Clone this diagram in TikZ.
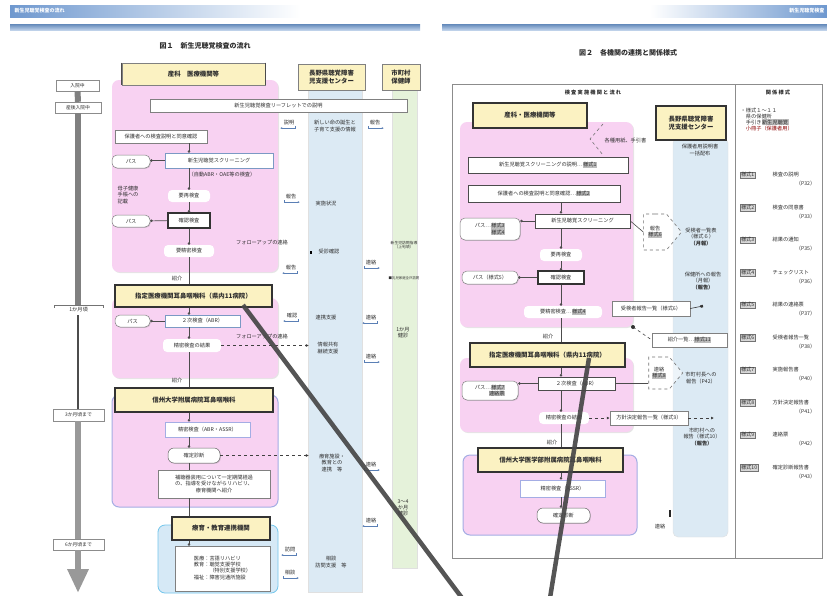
\documentclass[tikz,border=0pt]{standalone}
\usepackage{fontspec}
\setmainfont{Noto Sans CJK JP}
\usetikzlibrary{arrows.meta,shapes.geometric,shapes.symbols,shadows,calc}
\definecolor{pinkR}{HTML}{F8D2F2}
\definecolor{blueC}{HTML}{DCEAF4}
\definecolor{greenC}{HTML}{E5F2DA}
\definecolor{yelH}{HTML}{FBF2C2}
\definecolor{lavB}{HTML}{A4ADE4}
\definecolor{lbR}{HTML}{D6E9F6}
\definecolor{hBlue}{HTML}{6E98CF}
\definecolor{tagG}{HTML}{BDBDBD}
\definecolor{txt}{HTML}{2E2E2E}
\definecolor{arrB}{HTML}{5A7FB5}
\newcommand\tg[1]{{\setlength{\fboxsep}{0.5pt}\colorbox{tagG}{#1}}}
\newcommand\mybx[7]{\node[#2, minimum width={#5-#3}, minimum height={#6-#4}] (#1) at ({(#3+#5)/2},{(#4+#6)/2}) {#7};}
\newcommand\ra[1]{\draw[sarr] ([xshift=-0.5pt]#1.south west) |- ([xshift=3pt,yshift=-2pt]#1.south east);}
\newcommand\la[1]{\draw[sarr] ([xshift=0.5pt]#1.south east) |- ([xshift=-3pt,yshift=-2pt]#1.south west);}
\begin{document}
\begin{tikzpicture}[x=1pt,y=-1pt,
 every node/.style={text=txt},
 tx/.style={font=\fontsize{5.2}{6.1}\selectfont, inner sep=0.5pt, align=center},
 wbox/.style={tx, draw=black!50, fill=white, line width=0.5pt, inner sep=1pt, drop shadow={shadow xshift=0.8pt, shadow yshift=-0.8pt, opacity=0.3}},
 wboxk/.style={wbox, draw=black!70, line width=0.8pt},
 bbox/.style={wbox, draw=arrB!80},
 lbox/.style={wbox, draw=lavB, line width=0.8pt},
 dbox/.style={wbox, draw=black!80, line width=1.1pt},
 rbox/.style={wbox, rounded corners=5pt},
 cbox/.style={wbox, rounded corners=6pt, draw=black!60},
 nbox/.style={tx, fill=white, rounded corners=4pt, inner sep=1.2pt},
 hdr/.style={font=\fontsize{6.4}{7.4}\selectfont\bfseries, align=center, fill=yelH, draw=black!50, line width=0.8pt, inner sep=1pt, drop shadow={shadow xshift=0.8pt, shadow yshift=-0.8pt, opacity=0.3}},
 hdrk/.style={hdr, draw=black!80, line width=1.1pt},
 tlb/.style={tx, draw=black!45, fill=white, line width=0.4pt, font=\fontsize{4.8}{5.5}\selectfont},
 flow/.style={draw=black!70, line width=0.6pt, -{Circle[length=2.5pt]}},
 plain/.style={draw=black!70, line width=0.6pt},
 dflow/.style={draw=black!75, line width=0.6pt, dashed, -{Latex[length=3pt,width=3pt]}},
 sarr/.style={draw=arrB, line width=0.4pt, -{Latex[length=2pt,width=2pt]}},
 sig/.style={tx, draw=black!55, dashed, line width=0.6pt, shape=signal, signal to=east, signal pointer angle=100, fill=white, fill opacity=0.5, text opacity=1},
 tag/.style={tx, draw=black!55, fill=tagG!60, anchor=west, inner sep=0.8pt},
 bigl/.style={line width=4.5pt, black!72, opacity=0.92}
]
\useasboundingbox (0,0) rectangle (827,595);
\fill[white] (0,0) rectangle (827,595);

%================ LEFT PAGE =================
\fill[left color=hBlue, right color=white] (10,5) rectangle (300,17);
\node[tx, text=white, font=\fontsize{5}{6}\selectfont\bfseries, anchor=west] (lhd) at (14,11) {新生児聴覚検査の流れ};
\fill[top color=hBlue!90!black, bottom color=hBlue!45] (10,24) rectangle (420,30);
\node[font=\fontsize{7}{8}\selectfont\bfseries] (t1) at (205,46) {図１　新生児聴覚検査の流れ};

% columns
\fill[blueC, draw=black!12] (308,88) rectangle (362,592);
\fill[greenC, draw=black!12] (392,88) rectangle (417,568);
\mybx{h2}{hdr}{298}{64}{365}{90}{長野県聴覚障害\\児支援センター}
\mybx{h3}{hdr}{382}{64}{420}{90}{市町村\\保健師}

% timeline
\mybx{tl1}{tlb}{56}{80}{99}{91}{入院中}
\mybx{tl2}{tlb}{55}{102}{101}{113}{産後入院中}
\mybx{tl3}{tx}{54}{305}{103}{315}{1か月頃}
\draw[black!55, line width=0.5pt] ([yshift=-3pt]tl3.north west) -- (tl3.north west) -- (tl3.north east) -- ([yshift=-3pt]tl3.north east);
\mybx{tl4}{tlb}{53}{409}{104}{421}{3か月頃まで}
\mybx{tl5}{tlb}{53}{539}{104}{550}{6か月頃まで}
\coordinate (tlend) at (78.5,593);
\draw[line width=6pt, black!50] (tl1.south) -- (tl2.north);
\draw[line width=6pt, black!50] (tl2.south) -- (tl2.south |- tl3.north);
\draw[line width=2.5pt, black!70] (tl2.south |- tl3.south) -- (tl2.south |- tl4.north);
\draw[line width=6pt, black!40] (tl2.south |- tl4.south) -- (tl2.south |- tl5.north);
\draw[line width=6pt, black!40, -{Triangle[width=20pt,length=24pt]}] (tl2.south |- tl5.south) -- (tl2.south |- tlend);

% region 1
\fill[pinkR, rounded corners=7, drop shadow={shadow xshift=1pt, shadow yshift=-1pt, opacity=0.2}] (112,80) rectangle (278,272);
\mybx{h1}{hdr}{122}{63}{265}{85}{産科　医療機関等}
\draw[black!70, line width=1.3pt] (h1.north west) -- (h1.south west) (h1.north east) -- (h1.south east);
\mybx{b1}{wbox}{150}{99}{407}{112}{新生児聴覚検査リーフレットでの説明}
\mybx{b2}{wbox}{115}{130}{207}{143}{保護者への検査説明と同意確認}
\mybx{p1}{rbox}{112}{155}{150}{168}{パス}
\mybx{b3}{bbox}{165}{153}{273}{168}{新生児聴覚スクリーニング}
\node[tx] (b3n) at (222,175) {（自動ABR・OAE等の検査）};
\node[tx, align=left] (ml) at (128,195) {母子健康\\手帳への\\記載};
\mybx{n1}{nbox}{168}{190}{210}{202}{要再検査}
\mybx{p2}{rbox}{112}{215}{150}{227}{パス}
\mybx{b4}{dbox}{168}{213}{210}{228}{確認検査}
\mybx{n2}{nbox}{164}{245}{214}{257}{要精密検査}
\draw[flow] (b2.south -| n1) -- (b3.north -| n1);
\draw[flow] (b3.south -| n1) -- (n1);
\draw[flow] (n1) -- (b4);
\draw[flow] (b4) -- (n2);
\draw[flow] (b3.west) -- (p1.east |- b3.west);
\draw[flow] (b4) -- (p2);
\node[tx] (fu1) at (262,243) {フォローアップの連絡};
\node[tx] (sh1) at (177,279) {紹介};

% region 2
\fill[pinkR, rounded corners=7, drop shadow={shadow xshift=1pt, shadow yshift=-1pt, opacity=0.2}] (112,298) rectangle (278,378);
\mybx{h4}{hdrk}{115}{285}{272}{307}{指定医療機関耳鼻咽喉科（県内11病院）}
\mybx{p3}{rbox}{115}{315}{150}{327}{パス}
\mybx{b5}{bbox}{165}{315}{240}{327}{２次検査（ABR）}
\mybx{n3}{nbox}{163}{339}{221}{352}{精密検査の結果}
\draw[plain] (n2) -- (h4.north -| n1);
\draw[flow] (h4.south -| n1) -- (b5.north -| n1);
\draw[flow] (b5.south -| n1) -- (n3.north -| n1);
\draw[flow] (b5) -- (p3);
\node[tx] (fu2) at (262,337) {フォローアップの連絡};
\node[tx] (sh2) at (177,381) {紹介};

% region 3
\fill[pinkR, draw=lavB, line width=1pt, rounded corners=7] (112,395) rectangle (278,507);
\mybx{h5}{hdrk}{115}{388}{273}{412}{信州大学附属病院耳鼻咽喉科}
\mybx{b6}{lbox}{165}{422}{250}{437}{精密検査（ABR・ASSR）}
\mybx{n4}{cbox}{168}{448}{220}{463}{確定診断}
\mybx{b7}{wbox}{158}{470}{270}{498}{補聴器装用について一定期間経過\\の、指導を受けながらリハビリ、\\療育機関へ紹介}
\draw[plain] (n3.south -| n1) -- (h5.north -| n1);
\draw[flow] (h5.south -| n1) -- (b6.north -| n1);
\draw[flow] (b6.south -| n1) -- (n4.north -| n1);
\draw[plain] (n4.south -| n1) -- (b7.north -| n1);

% region 4
\fill[lbR, draw=lavB!70!cyan, line width=0.8pt, rounded corners=7] (158,525) rectangle (278,593);
\mybx{h6}{hdrk}{172}{517}{270}{540}{療育・教育連携機関}
\mybx{b8}{wbox}{175}{546}{270}{591}{\begin{tabular}{@{}l@{}}医療：言語リハビリ\\教育：聴覚支援学校\\　　　（特別支援学校）\\福祉：障害児通所施設\end{tabular}}
\draw[plain] (b7.south -| n1) -- (h6.north -| n1);
\draw[flow] (h6.south -| n1) -- (b8.north -| n1);

% blue column texts
\node[tx] (c1) at (335,126) {新しい命の誕生と\\子育て支援の情報};
\node[tx] (c2) at (326,204) {実施状況};
\node[tx] (c3) at (329,252) {受診確認};
\fill[black] ([xshift=-8pt,yshift=-1.5pt]c3.west) rectangle ([xshift=-5.5pt,yshift=1.5pt]c3.west);
\node[tx] (c4) at (326,318) {連携支援};
\node[tx] (c5) at (328,348) {情報共有\\継続支援};
\node[tx] (c6) at (332,463) {療育施設・\\教育との\\連携　等};
\node[tx] (c7) at (331,562) {相談\\訪問支援　等};
\draw[dflow] (n3.east) -- ([xshift=-8pt]c5.west |- n3.east);
\draw[dflow] (n4.east) -- ([xshift=-8pt]c5.west |- n4.east);

\node[tx] (l1) at (289,123) {説明}; \la{l1}
\node[tx] (l2) at (291,197) {報告}; \ra{l2}
\node[tx] (l3) at (291,268) {報告}; \la{l3}
\node[tx] (l4) at (292,316) {確認}; \la{l4}
\node[tx] (l5) at (290,550) {訪問}; \la{l5}
\node[tx] (l6) at (290,573) {相談}; \ra{l6}
\node[tx] (r1) at (375,123) {報告}; \ra{r1}
\node[tx] (r2) at (371,263) {連絡}; \ra{r2}
\node[tx] (r3) at (371,318) {連絡}; \la{r3}
\node[tx] (r4) at (371,357) {連絡}; \ra{r4}
\node[tx] (r5) at (371,465) {連絡}; \ra{r5}
\node[tx] (r6) at (371,521) {連絡}; \la{r6}

% green column texts
\node[tx, font=\fontsize{3.8}{4.5}\selectfont] (g1) at (404,245) {新生児訪問指導\\（上旬頃）};
\node[tx, font=\fontsize{3.4}{4}\selectfont] (g2) at (404,278) {■乳児家庭全戸訪問};
\node[tx] (g3) at (403,333) {1か月\\健診};
\node[tx] (g4) at (403,508) {3～4\\か月\\健診};

%================ RIGHT PAGE =================
\fill[left color=white, right color=hBlue] (650,5) rectangle (827,17);
\node[tx, text=white, font=\fontsize{5}{6}\selectfont\bfseries, anchor=east] (rhd) at (825,11) {新生児聴覚検査};
\fill[top color=hBlue!90!black, bottom color=hBlue!45] (442,24) rectangle (827,30);
\node[font=\fontsize{7}{8}\selectfont\bfseries] (t2) at (628,53) {図２　各機関の連携と関係様式};

\draw[black!45, line width=0.7pt] (452,84) rectangle (822,558);
\draw[black!45, line width=0.7pt] (735,84) -- (735,558);
\node[tx, font=\fontsize{5.2}{6}\selectfont\bfseries] (rh1) at (593,93) {検 査 実 施 機 関 と 流 れ};
\node[tx, font=\fontsize{5.2}{6}\selectfont\bfseries] (rh2) at (778,93) {関 係 様 式};

\fill[blueC, draw=black!12, rounded corners=5] (673,138) rectangle (728,537);
\fill[pinkR, rounded corners=7, drop shadow={shadow xshift=1pt, shadow yshift=-1pt, opacity=0.2}] (460,122) rectangle (633,327);
\mybx{hR1}{hdrk}{473}{103}{587}{128}{産科・医療機関等}
\mybx{hR2}{hdrk}{656}{106}{726}{140}{長野県聴覚障害\\児支援センター}
\coordinate (bk1) at (603,124); \coordinate (bk2) at (590,139); \coordinate (bk3) at (603,155);
\draw[dashed, black!55, line width=0.6pt] (bk1) -- (bk2) -- (bk3);
\node[tx, anchor=west] (rk) at (604,141) {各種用紙、手引書};
\mybx{bR1}{wboxk}{468}{157}{628}{173}{新生児聴覚スクリーニングの説明…\tg{様式1}}
\mybx{bR2}{wboxk}{468}{185}{620}{202}{保護者への検査説明と同意確認…\tg{様式2}}
\mybx{bR3}{wboxk}{535}{214}{630}{228}{新生児聴覚スクリーニング}
\mybx{pR1}{rbox}{460}{218}{520}{240}{パス…\tg{様式3}\\\hfill\tg{様式4}}
\mybx{nR1}{nbox}{540}{249}{582}{261}{要再検査}
\mybx{pR2}{rbox}{462}{271}{518}{284}{パス（様式5）}
\mybx{bR4}{dbox}{538}{271}{584}{284}{確認検査}
\mybx{nR2}{nbox}{524}{306}{602}{318}{要精密検査…\tg{様式4}}
\draw[flow] (bR2.south -| nR1) -- (bR3.north -| nR1);
\draw[flow] (bR3.south -| nR1) -- (nR1);
\draw[flow] (nR1) -- (bR4);
\draw[flow] (bR4) -- (nR2.north -| nR1);
\draw[flow] (bR3.west) -- (pR1.east |- bR3.west);
\draw[flow] (bR4) -- (pR2);
\node[sig, minimum width=38pt, minimum height=36pt] (sg1) at (655,232) {報告\\\tg{様式6}};
\draw[plain] (bR3.east) -- (sg1.west);

\mybx{bR5}{wbox}{612}{301}{690}{316}{受検者報告一覧（様式6）}
\coordinate (rc1) at (703,306);
\draw[black!80, line width=0.6pt, -{Square[length=2.5pt,width=2.5pt]}] (bR5.east) -- (rc1);
\coordinate (dot1) at (633,327);
\mybx{bR6}{wbox}{652}{333}{727}{347}{紹介一覧…\tg{様式11}}
\draw[black!75, dashed, line width=0.6pt] (dot1) -- (bR6.west);
\fill[black!80] (dot1) circle (2);
\node[tx] (shR1) at (548,337) {紹介};

\fill[pinkR, rounded corners=7, drop shadow={shadow xshift=1pt, shadow yshift=-1pt, opacity=0.2}] (460,358) rectangle (633,432);
\mybx{hR3}{hdrk}{470}{343}{625}{367}{指定医療機関耳鼻咽喉科（県内11病院）}
\mybx{pR3}{rbox}{462}{381}{518}{400}{パス…\tg{様式7}\\\hfill\tg{連絡票}}
\mybx{bR7}{wboxk}{538}{377}{615}{390}{２次検査（ABR）}
\node[sig, minimum width=34pt, minimum height=32pt] (sg2) at (659,373) {連絡\\\tg{様式8}};
\draw[plain] (bR7.east) -- (sg2.west |- bR7.east);
\mybx{nR3}{nbox}{539}{412}{589}{424}{精密検査の結果}
\mybx{bR8}{wbox}{610}{411}{688}{425}{方針決定報告一覧（様式9）}
\coordinate (rc2) at (714,418);
\draw[plain] (nR2.south -| nR1) -- (hR3.north -| nR1);
\draw[flow] (hR3.south -| nR1) -- (bR7.north -| nR1);
\draw[flow] (bR7.south -| nR1) -- (nR3.north -| nR1);
\draw[flow] (bR7.west) -- (pR3.east |- bR7.west);
\draw[dflow] (nR3) -- (bR8);
\draw[dflow] (bR8) -- (rc2);
\node[tx] (shR2) at (552,443) {紹介};

\fill[pinkR, draw=lavB, line width=1pt, rounded corners=7] (463,455) rectangle (637,535);
\mybx{hR4}{hdrk}{478}{448}{623}{472}{信州大学医学部附属病院耳鼻咽喉科}
\mybx{bR9}{lbox}{520}{480}{605}{497}{精密検査（ASSR）}
\mybx{nR4}{cbox}{537}{508}{590}{523}{確定診断}
\draw[plain] (nR3.south -| nR1) -- (hR4.north -| nR1);
\draw[flow] (hR4.south -| nR1) -- (bR9.north -| nR1);
\draw[flow] (bR9.south -| nR1) -- (nR4.north -| nR1);
\node[tx] (rl) at (660,527) {連絡};
\fill[black!85] (668.5,510) rectangle (670.5,517);

% blue column texts (right)
\node[tx] (cR1) at (700,150) {保護者用説明書\\一括配布};
\node[tx] (cR2) at (701,237) {受検者一覧表\\（様式６）\\\textbf{（月報）}};
\node[tx] (cR3) at (703,281) {保健所への報告\\（月報）\\\textbf{（報告）}};
\node[tx] (cR4) at (701,378) {市町村長への\\報告（P42）};
\node[tx] (cR5) at (702,437) {市町村への\\報告（様式10）\\\textbf{（報告）}};

% right column
\node[tx, anchor=north west, align=left] (rg0) at (740,107) {・様式１～１１\\　県の保健所\\　手引き\tg{新生児聴覚}\\\textcolor{red!55!black}{　小冊子（保護者用）}};
\foreach \i/\t/\p [count=\k from 0] in {1/検査の説明/32,2/検査の同意書/33,3/結果の通知/35,4/チェックリスト/36,5/結果の連絡票/37,6/受検者報告一覧/38,7/実施報告書/40,8/方針決定報告書/41,9/連絡票/42,10/確定診断報告書/43}{
 \pgfmathsetmacro\yy{175+32.5*\k}
 \node[tag] (f\i) at (740,\yy) {様式\i};
 \node[tx, anchor=west] (ft\i) at (772,\yy) {\t};
 \node[tx, anchor=east] (fp\i) at (816,\yy+9) {（P\p）};
}

% pointer lines
\coordinate (pl1a) at (243,305); \coordinate (pl1b) at (462,598);
\coordinate (pl2a) at (589,358); \coordinate (pl2b) at (550,598);
\draw[bigl] (pl1a) -- (pl1b);
\draw[bigl] (pl2a) -- (pl2b);
\end{tikzpicture}
\end{document}
